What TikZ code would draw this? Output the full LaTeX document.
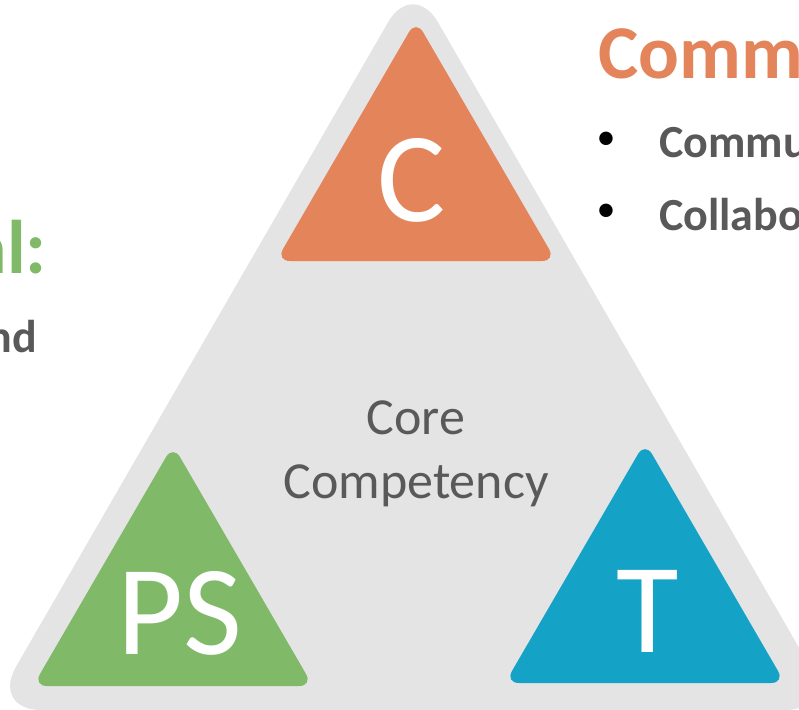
\documentclass[tikz,border=0pt]{standalone}
\usepackage{fontspec}
\setmainfont{Carlito}
\definecolor{bgtri}{HTML}{E4E4E4}
\definecolor{corange}{HTML}{E4845A}
\definecolor{cgreen}{HTML}{80BA69}
\definecolor{cblue}{HTML}{14A3C7}
\definecolor{tgrey}{HTML}{595959}
\begin{document}
\begin{tikzpicture}[x=1pt,y=-1pt,
  bigtri/.style={fill=bgtri,rounded corners=50pt},
  smalltri/.style={rounded corners=14pt},
  letter/.style={text=white,inner sep=0pt,anchor=base,font=\fontsize{128}{130}\selectfont},
  core/.style={text=tgrey,inner sep=0pt,anchor=base,font=\fontsize{52}{60}\selectfont},
  heading/.style={inner sep=0pt,font=\bfseries\fontsize{76}{80}\selectfont},
  bulletmark/.style={text=black,inner sep=0pt,anchor=center,font=\fontsize{38}{40}\selectfont},
  bullettxt/.style={text=tgrey,inner sep=0pt,anchor=base west,font=\bfseries\fontsize{46}{50}\selectfont}]
\useasboundingbox (0,0) rectangle (799,709);
\clip (0,0) rectangle (799,709);
% big grey triangle
\fill[bigtri] (413,-21) -- (835,710) -- (-9,710) -- cycle;
% coloured triangles
\fill[corange,smalltri] (416,20) -- (556,261) -- (276,261) -- cycle;
\fill[cgreen,smalltri] (173,445) -- (313,686) -- (33,686) -- cycle;
\fill[cblue,smalltri] (645,442) -- (785,683) -- (505,683) -- cycle;
% letters
\node[letter] (c) at (412,221) {C};
\node[letter] (ps) at (180,654) {PS};
\node[letter] (t) at (648,652) {T};
% core text
\node[core] (core1) at (416,434) {Core};
\node[core] (core2) at (416,498) {Competency};
% right side text
\node[heading,text=corange,anchor=base west] (hr) at (598,78) {Communication};
\node[bulletmark] (b1) at (606,141) {\textbullet};
\node[bullettxt] (r1) at (659,157) {Communication};
\node[bulletmark] (b2) at (606,213) {\textbullet};
\node[bullettxt] (r2) at (659,230) {Collaboration};
% left side text
\node[heading,text=cgreen,anchor=base east] (hl) at (47,273) {al:};
\node[bullettxt,anchor=base east] (l1) at (37,352) {and};
\end{tikzpicture}
\end{document}
